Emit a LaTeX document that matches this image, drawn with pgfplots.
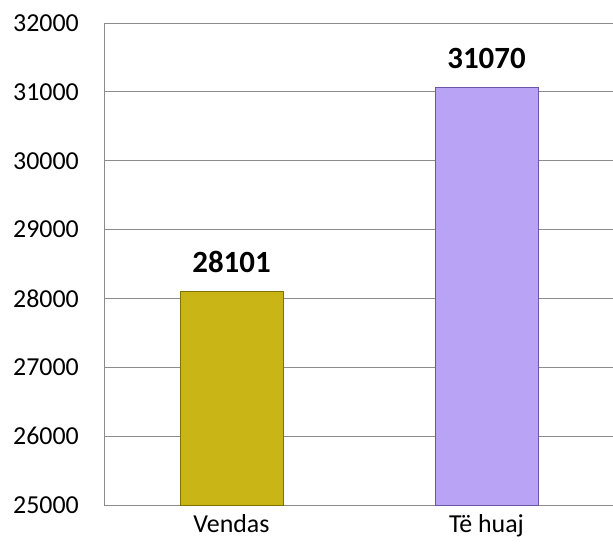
\documentclass[border=0pt]{standalone}
\usepackage{pgfplots}
\pgfplotsset{compat=1.18}
\usepackage{fontspec}
\setmainfont{Carlito}
\definecolor{gold}{HTML}{C9B515}
\definecolor{golddark}{HTML}{7F7000}
\definecolor{lav}{HTML}{B9A3F5}
\definecolor{lavdark}{HTML}{6A55A8}
\definecolor{gridc}{HTML}{8C8C8C}
\begin{document}
\begin{tikzpicture}
\path[use as bounding box] (0,0) rectangle (613bp,558bp);
\begin{axis}[
  at={(104bp,53bp)}, anchor=south west,
  scale only axis, width=510bp, height=482bp,
  xmin=-0.5, xmax=1.5, ymin=25000, ymax=32000,
  ytick={25000,26000,...,32000},
  scaled y ticks=false,
  xtick={0,1}, xticklabels={Vendas, Të huaj},
  axis x line*=bottom, axis y line*=left,
  axis line style={gridc, line width=1pt, -},
  ymajorgrids, grid style={gridc, line width=0.9pt},
  major tick length=0pt,
  /pgf/number format/1000 sep={},
  /pgf/number format/assume math mode=true,
  yticklabel style={font=\fontsize{26}{28}\selectfont, anchor=east, inner sep=0pt, xshift=-25bp, /pgf/number format/fixed, /pgf/number format/precision=0},
  xticklabel style={font=\fontsize{26}{28}\selectfont, anchor=base, inner sep=0pt, yshift=-27bp},
  ybar, bar width=103bp, bar shift=0pt,
  nodes near coords,
  every node near coord/.append style={font=\fontsize{31}{33}\selectfont\bfseries, anchor=base, inner sep=0pt, yshift=19bp},
  clip=false,
]
\addplot[fill=gold, draw=golddark, line width=0.8pt] coordinates {(0,28101)};
\addplot[fill=lav, draw=lavdark, line width=0.8pt] coordinates {(1,31070)};
\end{axis}
\end{tikzpicture}
\end{document}
